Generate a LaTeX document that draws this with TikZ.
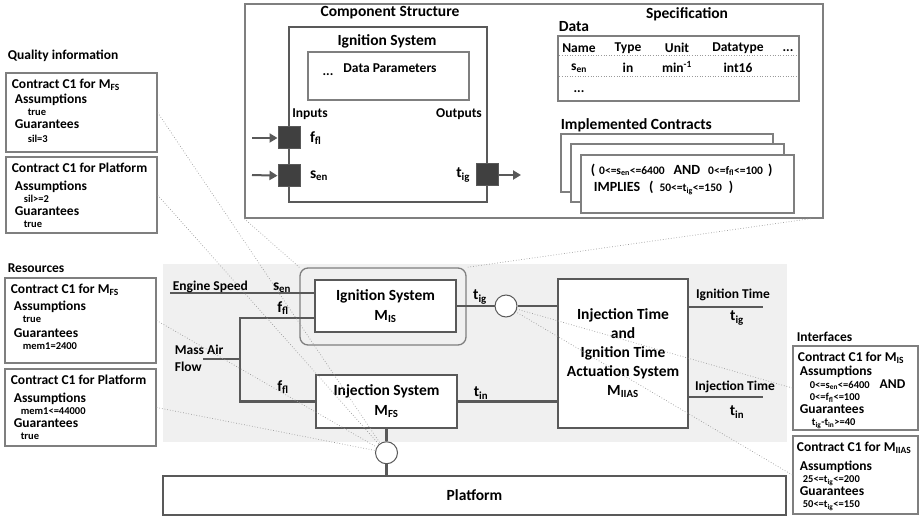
\documentclass[tikz,border=0pt]{standalone}
\usepackage{fontspec}
\setmainfont{Carlito}
\usepackage{tikz}
\usetikzlibrary{positioning}
\usetikzlibrary{arrows.meta}

\definecolor{wiregray}{HTML}{595959}
\definecolor{boxgray}{HTML}{7F7F7F}
\definecolor{portgray}{HTML}{404040}
\definecolor{panelgray}{HTML}{F0F0F0}
\definecolor{dotgray}{HTML}{9A9A9A}

\newcommand{\sbs}[1]{\textsubscript{#1}}
\newcommand{\bigf}{\fontsize{15.5}{20}\selectfont\bfseries}
\newcommand{\midf}{\fontsize{13.5}{12.5}\selectfont\bfseries}
\newcommand{\valf}{\fontsize{10.5}{12}\selectfont\bfseries}
\newcommand{\impf}{\fontsize{11.5}{12}\selectfont\bfseries}

\begin{document}
\begin{tikzpicture}[x=1pt,y=-1pt,line width=1pt,>={Triangle[length=8pt,width=9pt]},
  boxframe/.style={draw=boxgray,line width=1.3pt,fill=white,inner sep=0pt},
  blk/.style={draw=wiregray,line width=2.5pt,fill=white,align=center,font=\bigf,inner sep=0pt},
  port/.style={draw=wiregray,fill=portgray,line width=1pt,minimum size=22pt,inner sep=0pt},
  junc/.style={circle,draw=wiregray,fill=white,line width=1pt,minimum size=22pt,inner sep=0pt},
  wire/.style={draw=wiregray,line width=2.5pt},
  arr/.style={draw=wiregray,line width=2pt,->},
  link/.style={draw=dotgray,dotted,line width=0.7pt},
  rowline/.style={draw=dotgray,dotted,line width=0.6pt},
  ctext/.style={anchor=north west,align=left,font=\midf,inner xsep=6pt,inner ysep=6pt},
  lbl/.style={font=\bigf,inner sep=1pt},
  txt/.style={font=\midf}]
  \useasboundingbox (0,0) rectangle (920,518);

  % component structure and specification
  \node (detail) [boxframe,minimum width=578pt,minimum height=214pt] at (534,111) {};
  \node (cstitle) [font=\bigf] at (390,13) {Component Structure};
  \node (sptitle) [font=\bigf] at (687,14) {Specification};
  \node (isdet) [draw=wiregray,line width=2.5pt,minimum width=198pt,minimum height=175pt] at (388,114.5) {};
  \node (isdettitle) [font=\bigf] at (387,41) {Ignition System};
  \node (dpar) [boxframe,minimum width=161pt,minimum height=48pt] at (388.5,76) {};
  \node (dpdots) [txt] at (328,75) {...};
  \node (dpname) [txt] at (390,68) {Data Parameters};
  \node (inlbl) [txt] at (310,114) {Inputs};
  \node (outlbl) [txt] at (459,114) {Outputs};
  \node (pfl) [port] at (289,138) {};
  \node (psen) [port,below=15pt of pfl] {};
  \node (ptig) [port] at (487,175) {};
  \node (flin) [lbl,right=8pt of pfl] {f\sbs{fl}};
  \node (senin) [lbl,right=8pt of psen] {s\sbs{en}};
  \node (tigout) [lbl,left=4pt of ptig] {t\sbs{ig}};
  \coordinate (flsrc) at (252,138);
  \coordinate (sensrc) at (252,175);
  \coordinate (tigdst) at (521,175);
  \draw[arr] (flsrc) -- (pfl);
  \draw[arr] (sensrc) -- (psen);
  \draw[arr] (ptig) -- (tigdst);

  \node (datalbl) [font=\bigf,anchor=west] at (555,27) {Data};
  \node (dtab) [boxframe,minimum width=241pt,minimum height=65pt] at (678.5,68.5) {};
  \draw[rowline] ([xshift=2pt]dtab.west |- 0,55) -- ([xshift=-2pt]dtab.east |- 0,55);
  \draw[rowline] ([xshift=2pt]dtab.west |- 0,76) -- ([xshift=-2pt]dtab.east |- 0,76);
  \node (hname) [txt] at (579,48) {Name};
  \node (htype) [txt] at (628,48) {Type};
  \node (hunit) [txt] at (677,48) {Unit};
  \node (hdtype) [txt] at (738,48) {Datatype};
  \node (hdots) [txt] at (788,51) {...};
  \node (rname) [txt] at (579,68) {s\sbs{en}};
  \node (rtype) [txt] at (628,68) {in};
  \node (runit) [txt] at (677,67) {min\textsuperscript{-1}};
  \node (rdtype) [txt] at (738,68) {int16};
  \node (rdots) [txt] at (579,92) {...};

  \node (impl) [font=\bigf,anchor=west] at (557,125) {Implemented Contracts};
  \node (pg1) [boxframe,minimum width=212pt,minimum height=58pt] at (667,163) {};
  \node (pg2) [boxframe,minimum width=213pt,minimum height=58pt] at (677.5,173) {};
  \node (pg3) [boxframe,minimum width=213pt,minimum height=58pt] at (687.5,184) {};
  \node (pgline1) [anchor=west,font=\fontsize{14}{14}\selectfont\bfseries] at (587,170)
    {(\hspace{4pt}{\impf 0<=s\sbs{en}<=6400}\hspace{9pt}AND\hspace{8pt}{\impf 0<=f\sbs{fl}<=100}\hspace{5pt})};
  \node (pgline2) [anchor=west,font=\fontsize{14}{14}\selectfont\bfseries] at (590,188)
    {IMPLIES\hspace{9pt}(\hspace{6pt}{\impf 50<=t\sbs{ig}<=150}\hspace{7pt})};

  % quality information and resources
  \node (qualhd) [txt,anchor=west] at (4,56) {Quality information};
  \node (qfs) [boxframe,minimum width=151pt,minimum height=79pt] at (81.5,112.5) {};
  \node (qfstxt) [ctext] at (qfs.north west)
    {Contract C1 for M\sbs{FS}\\[2.5pt]\hspace*{3pt}Assumptions\\\hspace*{16pt}{\valf true}\\\hspace*{3pt}Guarantees\\[1.5pt]\hspace*{16pt}{\valf sil=3}};
  \node (qplat) [boxframe,minimum width=151pt,minimum height=76pt] at (81.5,195) {};
  \node (qplattxt) [ctext] at (qplat.north west)
    {Contract C1 for Platform\\[5.5pt]\hspace*{3pt}Assumptions\\\hspace*{12pt}{\valf sil>=2}\\\hspace*{3pt}Guarantees\\\hspace*{12pt}{\valf true}};
  \node (reshd) [txt,anchor=west] at (4,268) {Resources};
  \node (rfs) [boxframe,minimum width=151pt,minimum height=85pt] at (80.5,320.5) {};
  \node (rfstxt) [ctext] at (rfs.north west)
    {Contract C1 for M\sbs{FS}\\[4.5pt]\hspace*{3pt}Assumptions\\\hspace*{12pt}{\valf true}\\[2pt]\hspace*{3pt}Guarantees\\\hspace*{12pt}{\valf mem1=2400}};
  \node (rplat) [boxframe,minimum width=151pt,minimum height=77pt] at (80.5,407.5) {};
  \node (rplattxt) [ctext] at (rplat.north west)
    {Contract C1 for Platform\\[5.5pt]\hspace*{3pt}Assumptions\\\hspace*{10pt}{\valf mem1<=44000}\\\hspace*{3pt}Guarantees\\\hspace*{10pt}{\valf true}};

  % interfaces
  \node (ifhd) [txt,anchor=west] at (793,337) {Interfaces};
  \node (ifis) [boxframe,minimum width=125pt,minimum height=84pt] at (855.5,388) {};
  \node (ifistxt) [ctext,inner xsep=5pt] at (ifis.north west)
    {Contract C1 for M\sbs{IS}\\[2pt]\hspace*{2pt}Assumptions\\\hspace*{12pt}{\valf 0<=s\sbs{en}<=6400}\hspace{10pt}AND\\\hspace*{12pt}{\valf 0<=f\sbs{fl}<=100}\\\hspace*{2pt}Guarantees\\\hspace*{14pt}{\valf t\sbs{ig}-t\sbs{in}>=40}};
  \node (ifias) [boxframe,minimum width=125pt,minimum height=78pt] at (855.5,475) {};
  \node (ifiastxt) [ctext,inner xsep=4pt] at (ifias.north west)
    {Contract C1 for M\sbs{IIAS}\\[6.5pt]\hspace*{3pt}Assumptions\\\hspace*{6pt}{\valf 25<=t\sbs{ig}<=200}\\\hspace*{3pt}Guarantees\\\hspace*{6pt}{\valf 50<=t\sbs{ig}<=150}};

  % system architecture
  \fill[panelgray] (163,264) rectangle (787,442);
  \node (isgrp) [draw=boxgray,line width=1.3pt,rounded corners=8pt,minimum width=166pt,minimum height=77pt] at (383,306.5) {};
  \node (is) [blk,minimum width=141pt,minimum height=52pt] at (385.5,306) {Ignition System\\M\sbs{IS}};
  \node (fs) [blk,minimum width=141pt,minimum height=53pt] at (386.5,401.5) {Injection System\\M\sbs{FS}};
  \node (iias) [blk,minimum width=130pt,minimum height=149pt,font=\fontsize{15.5}{19}\selectfont\bfseries] at (623,353.5)
    {Injection Time\\and\\Ignition Time\\Actuation System\\M\sbs{IIAS}};
  \node (jig) [junc] at (506,306) {};
  \node (jfs) [junc,below=12pt of fs] {};
  \node (plat) [blk,minimum width=623pt,minimum height=39pt] at (474.5,495.5) {Platform};

  \coordinate (esrc) at (170,293);
  \coordinate (mafsrc) at (203,359);
  \coordinate (bus) at (240,359);
  \coordinate (igend) at (763,307);
  \coordinate (inend) at (763,397);
  \draw[wire] (esrc) -- (esrc -| is.west);
  \draw[wire] (fs.west) -| (bus) |- (is.west |- 0,318);
  \draw[wire] (mafsrc) -- (bus);
  \draw[wire] (is) -- (jig);
  \draw[wire] (jig) -- (jig -| iias.west);
  \draw[wire] (fs.east) -- (fs.east -| iias.west);
  \draw[wire] (igend -| iias.east) -- (igend);
  \draw[wire] (inend -| iias.east) -- (inend);
  \draw[wire] (fs) -- (jfs);
  \draw[wire] (jfs) -- (jfs |- plat.north);

  \node (eslbl) [txt,anchor=west] at (169,287) {Engine Speed};
  \node (sen) [lbl] at (282,288) {s\sbs{en}};
  \node (fl1) [lbl] at (283,308) {f\sbs{fl}};
  \node (maflbl) [anchor=west,align=left,font=\fontsize{13.5}{17}\selectfont\bfseries] at (171,358) {Mass Air\\Flow};
  \node (fl2) [lbl] at (283,387) {f\sbs{fl}};
  \node (tig) [lbl] at (480,297) {t\sbs{ig}};
  \node (tin) [lbl] at (481,393) {t\sbs{in}};
  \node (igtlbl) [txt] at (733,295) {Ignition Time};
  \node (igt) [lbl] at (737,318) {t\sbs{ig}};
  \node (intlbl) [txt] at (735,387) {Injection Time};
  \node (int) [lbl] at (737,412) {t\sbs{in}};

  % trace links
  \draw[link] (detail.south west) -- (isgrp.north west);
  \draw[link] ([xshift=-13pt]detail.south east) -- (isgrp.north east);
  \draw[link] (qfs.east) -- (jfs);
  \draw[link] (qplat.east) -- (jfs);
  \draw[link] (rfs.east) -- (jfs);
  \draw[link] (rplat.east) -- (jfs);
  \draw[link] (ifis.west) -- (jig);
  \draw[link] (ifias.west) -- (jig);
\end{tikzpicture}
\end{document}
